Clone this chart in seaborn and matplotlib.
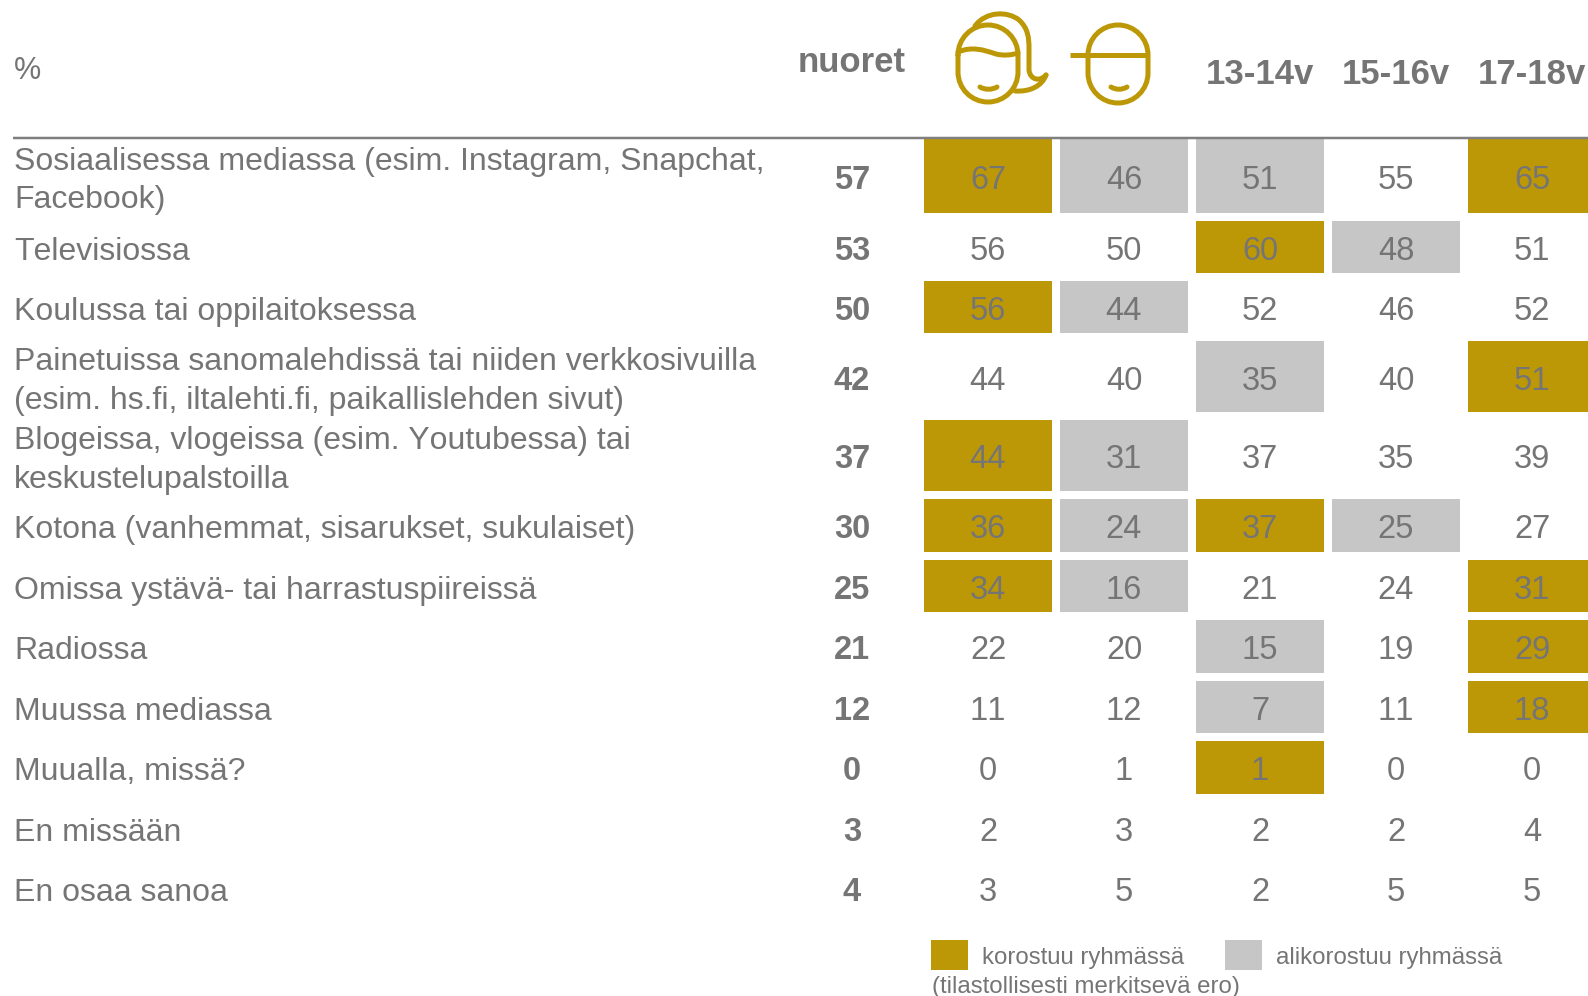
import numpy as np
import matplotlib
matplotlib.use("Agg")
import matplotlib.pyplot as plt
from matplotlib.colors import ListedColormap
from matplotlib.patches import PathPatch, Rectangle
from matplotlib.path import Path
from matplotlib.transforms import offset_copy
import seaborn as sns

#------data------
labels = [
    "Sosiaalisessa mediassa (esim. Instagram, Snapchat,\nFacebook)",
    "Televisiossa",
    "Koulussa tai oppilaitoksessa",
    "Painetuissa sanomalehdissä tai niiden verkkosivuilla\n(esim. hs.fi, iltalehti.fi, paikallislehden sivut)",
    "Blogeissa, vlogeissa (esim. Youtubessa) tai\nkeskustelupalstoilla",
    "Kotona (vanhemmat, sisarukset, sukulaiset)",
    "Omissa ystävä- tai harrastuspiireissä",
    "Radiossa",
    "Muussa mediassa",
    "Muualla, missä?",
    "En missään",
    "En osaa sanoa",
]
age_labels = ["13-14v", "15-16v", "17-18v"]

nuoret = [57, 53, 50, 42, 37, 30, 25, 21, 12, 0, 3, 4]
tytot = [67, 56, 56, 44, 44, 36, 34, 22, 11, 0, 2, 3]
pojat = [46, 50, 44, 40, 31, 24, 16, 20, 12, 1, 3, 5]
age13 = [51, 60, 52, 35, 37, 37, 21, 15, 7, 1, 2, 2]
age15 = [55, 48, 46, 40, 35, 25, 24, 19, 11, 0, 2, 5]
age17 = [65, 51, 52, 51, 39, 27, 31, 29, 18, 0, 4, 5]

# 0 = no difference, 1 = korostuu, 2 = alikorostuu
flag_nuoret = [0] * 12
flag_tytot = [1, 0, 1, 0, 1, 1, 1, 0, 0, 0, 0, 0]
flag_pojat = [2, 0, 2, 0, 2, 2, 2, 0, 0, 0, 0, 0]
flag_13 = [2, 1, 0, 2, 0, 1, 0, 2, 2, 1, 0, 0]
flag_15 = [0, 2, 0, 0, 0, 2, 0, 0, 0, 0, 0, 0]
flag_17 = [1, 0, 0, 1, 0, 0, 1, 1, 1, 0, 0, 0]

values = np.array([nuoret, tytot, pojat, age13, age15, age17]).T
flags = np.array([flag_nuoret, flag_tytot, flag_pojat, flag_13, flag_15, flag_17]).T

#------layout (pixels of the 1588x996 picture)------
W, H = 1588, 996
GOLD = "#bd9806"
GRAY = "#c6c6c6"
TEXT = "#757575"
px = 72 / 100  # one pixel in points
row_edges = [135, 217, 277, 337.5, 416, 495, 555.5, 616, 676.5, 737, 797.5, 858, 918]
grid_left, grid_right = 784, 1600

sns.set_theme(style="white")
plt.rcParams["font.family"] = ["Liberation Sans", "DejaVu Sans"]
plt.rcParams["text.kerning_factor"] = 6

fig = plt.figure(figsize=(W / 100, H / 100), dpi=100)
cmap = ListedColormap(["white", GOLD, GRAY])

#------one heatmap per row, because the rows have different heights------
for i in range(len(labels)):
    top, bottom = row_edges[i], row_edges[i + 1]
    ax = fig.add_axes([grid_left / W, 1 - bottom / H, (grid_right - grid_left) / W, (bottom - top) / H])
    sns.heatmap(flags[[i]], annot=values[[i]], fmt="d", cmap=cmap, vmin=0, vmax=2, cbar=False,
                linewidths=8 * px, linecolor="white", xticklabels=False, yticklabels=False,
                annot_kws={"color": TEXT, "fontsize": 23.5}, ax=ax)
    ax.texts[0].set_fontweight("bold")
    for t in ax.texts:
        t.set_transform(offset_copy(t.get_transform(), fig, y=-4.5 * px, units="points"))

#------texts and decoration on a pixel overlay------
over = fig.add_axes([0, 0, 1, 1], zorder=5)
over.set_xlim(0, W)
over.set_ylim(H, 0)
over.axis("off")

over.plot([13, W], [137.5, 137.5], color="#7f7f7f", lw=2.5 * px, solid_capstyle="butt")

for i, label in enumerate(labels):
    over.text(14, (row_edges[i] + row_edges[i + 1]) / 2 + 5, label, color=TEXT, fontsize=23,
              ha="left", va="center", linespacing=1.37)

over.text(14, 71, "%", color=TEXT, fontsize=22, ha="left", va="center")
over.text(852, 62, "nuoret", color=TEXT, fontsize=25, fontweight="bold", ha="center", va="center")
for x, age in zip([1260, 1396, 1532], age_labels):
    over.text(x, 74, age, color=TEXT, fontsize=25, fontweight="bold", ha="center", va="center")

#------icons------
icon = dict(fill=False, edgecolor=GOLD, lw=5 * px, capstyle="round", joinstyle="round")


def face(x0, y0, x1, y1):
    # stadium outline from four quarter circles
    r = (x1 - x0) / 2
    k = 0.5523 * r
    cx = x0 + r
    points = [(x0, y0 + r), (x0, y0 + r - k), (cx - k, y0), (cx, y0),
              (cx + k, y0), (x1, y0 + r - k), (x1, y0 + r),
              (x1, y1 - r), (x1, y1 - r + k), (cx + k, y1), (cx, y1),
              (cx - k, y1), (x0, y1 - r + k), (x0, y1 - r), (x0, y0 + r)]
    codes = [Path.MOVETO] + [Path.CURVE4] * 6 + [Path.LINETO] + [Path.CURVE4] * 6 + [Path.LINETO]
    over.add_patch(PathPatch(Path(points, codes), **icon))


def curve(points):
    codes = [Path.MOVETO] + [Path.CURVE4] * (len(points) - 1)
    over.add_patch(PathPatch(Path(points, codes), **icon))


# girl
face(958, 25, 1018, 102)
curve([(958, 52), (972, 46), (984, 50), (996, 54), (1004, 56), (1012, 55), (1018, 53)])
curve([(975, 26), (986, 11), (1008, 11), (1019, 20), (1028, 28), (1029, 38), (1029, 48),
       (1029, 58), (1029, 66), (1029, 70), (1030, 80), (1040, 82), (1046, 75)])
curve([(1046, 75), (1042, 86), (1030, 92), (1015, 91)])
curve([(980, 87), (985, 90), (992, 90), (997, 87)])

# boy
face(1088, 25, 1148, 103)
over.plot([1070, 1148], [55, 55], color=GOLD, lw=5 * px, solid_capstyle="butt")
curve([(1111, 87), (1116, 90), (1122, 90), (1127, 87)])

#------legend------
over.add_patch(Rectangle((931, 940), 37, 30, color=GOLD, lw=0))
over.add_patch(Rectangle((1225, 940), 37, 30, color=GRAY, lw=0))
over.text(982, 958, "korostuu ryhmässä", color=TEXT, fontsize=17.3, ha="left", va="center")
over.text(1276, 958, "alikorostuu ryhmässä", color=TEXT, fontsize=17.3, ha="left", va="center")
over.text(932, 987, "(tilastollisesti merkitsevä ero)", color=TEXT, fontsize=17.3, ha="left", va="center")

plt.savefig("out.png", dpi=100)
